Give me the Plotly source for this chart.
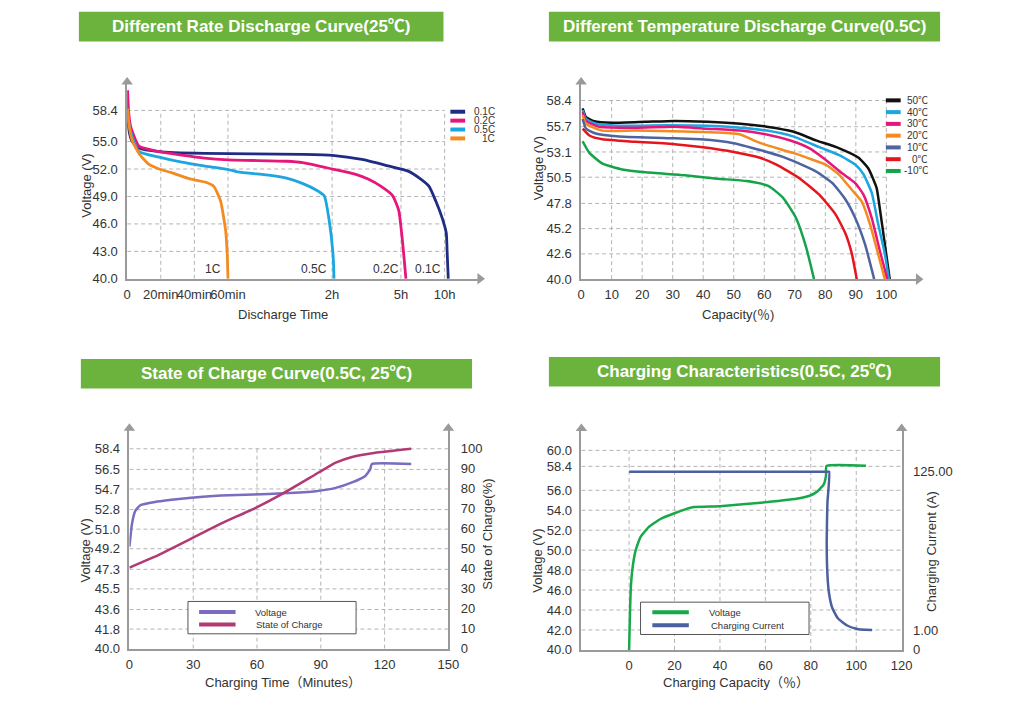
import numpy as np
import plotly.graph_objects as go

FONT = "Liberation Sans, Arial, Noto Sans CJK SC, sans-serif"
TXT = "#333333"
AXIS = "#9a9a9a"
GRID = "#b4b4b4"
GREEN_BAR = "#6cb33e"

# ---------------- chart 1: different rate discharge curve (25C)
RATE_NAMES = ["0.1C", "0.2C", "0.5C", "1C"]
RATE_COLORS = ["#1f2c84", "#e5177b", "#1ba6e1", "#f38b20"]

rate_01c_min = [0.3, 1, 3, 7, 19, 46, 103, 121, 198, 266, 345, 436, 493, 539, 584, 611, 618, 625]
rate_01c_v = [58.6, 56.3, 55.0, 54.3, 53.9, 53.7, 53.6, 53.5, 53.05, 52.35, 51.8, 50.9, 50.1, 48.5, 46.6, 45.0, 42.6, 40.0]

rate_02c_min = [0.3, 0.8, 2, 7, 19, 46, 60, 94, 103, 121, 180, 214, 248, 278, 294, 311, 334]
rate_02c_v = [60.6, 58.4, 56.7, 54.5, 53.9, 53.2, 53.0, 52.85, 52.7, 52.0, 51.45, 50.9, 50.1, 49.1, 47.5, 44.0, 40.0]

rate_05c_min = [0.3, 1, 3, 7, 19, 32.5, 45.6, 59.6, 65.5, 84.4, 93.8, 103.2, 110.8, 115.5, 118.3, 122.6, 125]
rate_05c_v = [58.6, 57.0, 55.5, 53.9, 53.3, 52.75, 52.35, 51.97, 51.7, 51.3, 51.0, 50.4, 49.7, 49.05, 46.4, 42.6, 40.0]

rate_1c_min = [0.3, 1, 3, 7, 13, 19, 26.4, 35.8, 41.6, 47.6, 51.6, 55.6, 58.6, 59.6, 60]
rate_1c_v = [58.6, 57.0, 55.1, 53.7, 52.5, 52.0, 51.6, 51.0, 50.75, 50.5, 50.1, 48.5, 45.3, 42.6, 40.0]

# the time axis is not to scale: anchors (minutes -> axis position)
TIME_TICK_MIN = [0, 20, 40, 60, 120, 300, 600, 900]
TIME_TICK_POS = [0, 1, 2, 3, 6.1, 8.15, 9.45, 10.75]
TIME_TICK_TEXT = ["0", "20min", "40min", "60min", "2h", "5h", "10h"]
RATE_VOLT_TICKS = [40.0, 43.0, 46.0, 49.0, 52.0, 55.0, 58.4]

# ---------------- chart 2: different temperature discharge curve (0.5C)
TEMP_NAMES = ["50℃", "40℃", "30℃", "20℃", "10℃", "0℃", "-10℃"]
TEMP_COLORS = ["#111111", "#1ba6e1", "#e5177b", "#f38b20", "#4e64a0", "#e8141d", "#15a34a"]

t50_cap = [0.5, 1.6, 4.3, 10.2, 21, 30.6, 41.4, 52.2, 60.8, 69.4, 76.9, 84.4, 90.9, 94.1, 96.8, 97.8, 99.5, 101.1]
t50_v = [57.6, 56.7, 56.26, 56.1, 56.2, 56.3, 56.2, 56.0, 55.7, 55.2, 54.3, 53.5, 52.5, 51.4, 49.4, 47.4, 43.6, 40.0]
t40_cap = [0.5, 1.6, 4.8, 12.4, 28.5, 41.4, 52.2, 60.8, 69.4, 78, 84.4, 89.8, 92.5, 95.2, 97.3, 99.5, 100.8]
t40_v = [57.4, 56.5, 56.0, 55.8, 55.85, 55.8, 55.6, 55.3, 54.7, 53.6, 52.8, 51.8, 50.8, 48.9, 45.7, 42.6, 40.0]
t30_cap = [0.5, 1.6, 5.9, 17.7, 30.6, 41.4, 52.2, 60.8, 68.3, 74.7, 80.1, 85.5, 89.8, 92.5, 95.2, 97.8, 100.3]
t30_v = [57.2, 56.3, 55.7, 55.6, 55.7, 55.5, 55.3, 54.9, 54.3, 53.5, 52.3, 50.9, 49.9, 48.7, 46.3, 43.0, 40.0]
t20_cap = [0.5, 1.6, 7, 17.7, 33.9, 44.6, 52.2, 56.5, 60.8, 69.4, 75.8, 80.1, 84.4, 88.7, 91.9, 94.6, 97.3, 99.5]
t20_v = [56.9, 56.0, 55.3, 55.3, 55.2, 55.1, 54.9, 54.3, 53.8, 53.0, 52.3, 51.8, 50.8, 49.2, 48.0, 45.7, 42.6, 40.0]
t10_cap = [0.5, 1.6, 4.8, 12.4, 30.6, 39.2, 50, 58.6, 66.1, 71.5, 76.9, 82.3, 86.6, 89.8, 93, 96]
t10_v = [56.5, 55.5, 55.0, 54.7, 54.5, 54.4, 54.0, 53.3, 52.6, 51.9, 51.1, 49.9, 48.2, 46.3, 43.6, 40.0]
t0_cap = [0.5, 2.7, 7, 17.7, 30.6, 39.2, 50, 58.6, 64, 71.5, 78, 83.3, 86.6, 88.7, 90.3]
t0_v = [55.5, 54.8, 54.4, 54.15, 53.9, 53.6, 53.1, 52.5, 51.8, 50.4, 48.7, 46.7, 44.7, 42.6, 40.0]
tm10_cap = [0.5, 2.7, 7, 13.4, 21, 33.9, 44.6, 54.3, 61.3, 66.1, 70.4, 73.7, 76.3]
tm10_v = [54.2, 53.0, 51.9, 51.3, 51.0, 50.7, 50.35, 50.1, 49.6, 48.4, 46.3, 43.3, 40.0]

TEMP_VOLT_TICKS = [40.0, 42.6, 45.2, 47.8, 50.5, 53.1, 55.7, 58.4]
CAP_TICKS = [0, 10, 20, 30, 40, 50, 60, 70, 80, 90, 100]

# ---------------- chart 3: state of charge curve (0.5C, 25C)
soc_v_min = [0, 1.2, 2.8, 5.1, 12, 19.8, 29, 43, 58.4, 72.3, 87.7, 97, 104.7, 110.9, 113.2, 114, 132.5]
soc_voltage = [49.4, 51.5, 52.7, 53.2, 53.5, 53.7, 53.9, 54.1, 54.2, 54.3, 54.5, 54.8, 55.3, 55.9, 56.5, 57.0, 57.0]
soc_s_min = [0, 12, 29, 43, 58.9, 72.3, 89, 97, 104.7, 115.6, 132.5]
soc_percent = [40.5, 46, 55, 62.5, 70.2, 77.7, 88.1, 93, 95.9, 98, 100]

SOC_VOLT_TICKS = [40.0, 41.8, 43.6, 45.5, 47.3, 49.2, 51.0, 52.8, 54.7, 56.5, 58.4]
SOC_TICKS = [0, 10, 20, 30, 40, 50, 60, 70, 80, 90, 100]
MIN_TICKS = [0, 30, 60, 90, 120, 150]

# ---------------- chart 4: charging characteristics (0.5C, 25C)
chg_v_cap = [0, 0.3, 0.7, 1.4, 2.9, 5, 8.6, 13.6, 20, 27.9, 40, 60, 75, 80, 83, 85.7, 86.7, 86.9, 104.3]
chg_voltage = [40.0, 43.0, 46.0, 48.0, 50.0, 51.3, 52.3, 53.1, 53.7, 54.3, 54.4, 54.8, 55.2, 55.5, 55.9, 56.6, 57.5, 58.45, 58.45]
chg_i_cap = [0, 87.1, 88.1, 87.3, 87.0, 87.3, 88, 89.5, 92, 96, 100, 104, 107]
chg_current = [125, 125, 125, 100, 70, 45, 30, 18, 10, 4.5, 2, 1.1, 1.0]

CHG_VOLT_TICKS = [40.0, 42.0, 44.0, 46.0, 48.0, 50.0, 52.0, 54.0, 56.0, 58.4, 60.0]
CHG_CAP_TICKS = [0, 20, 40, 60, 80, 100, 120]
# the current axis is not to scale either
CURRENT_TICKS = [0, 1, 125]
CURRENT_TICK_TEXT = ["0", "1.00", "125.00"]
CURRENT_TICK_POS = [0, 2, 17.86]


def px(x):
    return x / 1024


def py(y):
    return 1 - y / 712


def time_pos(minutes):
    return np.interp(minutes, TIME_TICK_MIN, TIME_TICK_POS)


def axis(**kw):
    d = dict(showline=True, linecolor=AXIS, linewidth=1.5, showgrid=False,
             zeroline=False, ticks="", fixedrange=True, tickangle=0,
             tickfont=dict(family=FONT, size=13, color=TXT))
    d.update(kw)
    return d


fig = go.Figure()
shapes = []
annotations = []


def hgrid(xr, yr, x0, x1, ys):
    for y in ys:
        shapes.append(dict(type="line", xref=xr, yref=yr, x0=x0, x1=x1, y0=y, y1=y,
                           line=dict(color=GRID, width=1, dash="4px,3px"), layer="below"))


def vgrid(xr, yr, xs, y0, y1):
    for x in xs:
        shapes.append(dict(type="line", xref=xr, yref=yr, x0=x, x1=x, y0=y0, y1=y1,
                           line=dict(color=GRID, width=1, dash="4px,3px"), layer="below"))


def arrow(xa, ya, x, y, symbol):
    fig.add_trace(go.Scatter(x=[x], y=[y], xaxis=xa, yaxis=ya, mode="markers",
                             marker=dict(symbol=symbol, size=10, color=AXIS),
                             cliponaxis=False, hoverinfo="skip", showlegend=False))


def text(x, y, s, size=13, xanchor="center", **kw):
    annotations.append(dict(x=px(x), y=py(y), xref="paper", yref="paper", text=s,
                            xanchor=xanchor, yanchor="middle", showarrow=False,
                            font=dict(family=FONT, size=size, color=TXT), **kw))


def title_box(x0, x1, y0, y1, s):
    shapes.append(dict(type="rect", xref="paper", yref="paper", x0=px(x0), x1=px(x1),
                       y0=py(y1), y1=py(y0), fillcolor=GREEN_BAR, line=dict(width=0)))
    annotations.append(dict(x=px((x0 + x1) / 2), y=py((y0 + y1) / 2), xref="paper", yref="paper",
                            text="<b>" + s + "</b>", showarrow=False,
                            xanchor="center", yanchor="middle",
                            font=dict(family=FONT, size=17, color="white")))


def legend_line(x0, x1, y, color, width=4):
    shapes.append(dict(type="line", xref="paper", yref="paper", x0=px(x0), x1=px(x1),
                       y0=py(y), y1=py(y), line=dict(color=color, width=width)))


# ---- chart 1
rate_series = [(rate_01c_min, rate_01c_v), (rate_02c_min, rate_02c_v),
               (rate_05c_min, rate_05c_v), (rate_1c_min, rate_1c_v)]
hgrid("x", "y", 0, TIME_TICK_POS[6], RATE_VOLT_TICKS[1:])
vgrid("x", "y", TIME_TICK_POS[1:7], 40, 58.4)
for name, color, (t, v) in zip(RATE_NAMES, RATE_COLORS, rate_series):
    fig.add_trace(go.Scatter(x=time_pos(t), y=v, xaxis="x", yaxis="y", mode="lines", name=name,
                             line=dict(color=color, width=2.8, shape="spline", smoothing=0.5),
                             showlegend=False))
    annotations.append(dict(x=time_pos(t[-1]), y=40, xref="x", yref="y", text=name,
                            xanchor="right", yanchor="bottom", xshift=-5, yshift=1,
                            showarrow=False, font=dict(family=FONT, size=12, color=TXT)))
arrow("x", "y", 0, 61.5, "triangle-up")
arrow("x", "y", 10.5, 40, "triangle-right")
for i, (name, color) in enumerate(zip(RATE_NAMES, RATE_COLORS)):
    yy = 113 + i * 9
    legend_line(453, 468, yy, color)
    text(500, yy, name, size=10, xanchor="right")

# ---- chart 2
temp_series = [(t50_cap, t50_v), (t40_cap, t40_v), (t30_cap, t30_v), (t20_cap, t20_v),
               (t10_cap, t10_v), (t0_cap, t0_v), (tm10_cap, tm10_v)]
hgrid("x2", "y2", 0, 100, TEMP_VOLT_TICKS[1:])
vgrid("x2", "y2", CAP_TICKS[1:], 40, 58.4)
for name, color, (c, v) in zip(TEMP_NAMES, TEMP_COLORS, temp_series):
    fig.add_trace(go.Scatter(x=c, y=v, xaxis="x2", yaxis="y2", mode="lines", name=name,
                             line=dict(color=color, width=2.5, shape="spline", smoothing=0.5),
                             showlegend=False))
arrow("x2", "y2", 0, 60.3, "triangle-up")
arrow("x2", "y2", 110.5, 40, "triangle-right")
for i, (name, color) in enumerate(zip(TEMP_NAMES, TEMP_COLORS)):
    yy = 101.5 + i * 11.9
    legend_line(895, 910, yy, color)
    text(940, yy, name, size=10, xanchor="right")

# ---- chart 3
hgrid("x3", "y3", 0, 150, SOC_VOLT_TICKS[1:])
vgrid("x3", "y3", MIN_TICKS[1:5], 40, 58.4)
fig.add_trace(go.Scatter(x=soc_v_min, y=soc_voltage, xaxis="x3", yaxis="y3", mode="lines",
                         name="Voltage", line=dict(color="#7a6cc0", width=2.5, shape="spline", smoothing=0.4),
                         showlegend=False))
fig.add_trace(go.Scatter(x=soc_s_min, y=soc_percent, xaxis="x3", yaxis="y4", mode="lines",
                         name="State of Charge", line=dict(color="#b23a74", width=2.5, shape="spline", smoothing=0.4),
                         showlegend=False))
arrow("x3", "y3", 0, 60.3, "triangle-up")
arrow("x3", "y3", 150, 60.3, "triangle-up")
shapes.append(dict(type="rect", xref="paper", yref="paper", x0=px(186.7), x1=px(357.3),
                   y0=py(641), y1=py(608.3), line=dict(color="#555555", width=1), fillcolor="white"))
legend_line(198, 235, 619, "#7a6cc0")
legend_line(198, 235, 631.7, "#b23a74")
text(253, 619, "Voltage", size=9.5, xanchor="left")
text(254, 631.7, "State of Charge", size=9.5, xanchor="left")

# ---- chart 4
hgrid("x4", "y5", -21, 120, CHG_VOLT_TICKS[1:])
vgrid("x4", "y5", CHG_CAP_TICKS[:6], 40, 60)
fig.add_trace(go.Scatter(x=chg_v_cap, y=chg_voltage, xaxis="x4", yaxis="y5", mode="lines",
                         name="Voltage", line=dict(color="#17a84a", width=2.5, shape="spline", smoothing=0.4),
                         showlegend=False))
fig.add_trace(go.Scatter(x=chg_i_cap, y=np.interp(chg_current, CURRENT_TICKS, CURRENT_TICK_POS),
                         xaxis="x4", yaxis="y6", mode="lines", name="Charging Current",
                         line=dict(color="#4c5f9e", width=2.5, shape="spline", smoothing=0.4),
                         showlegend=False))
arrow("x4", "y5", -21, 62.2, "triangle-up")
arrow("x4", "y5", 120, 62.2, "triangle-up")
shapes.append(dict(type="rect", xref="paper", yref="paper", x0=px(646), x1=px(817),
                   y0=py(641.7), y1=py(609), line=dict(color="#555555", width=1), fillcolor="white"))
legend_line(658, 695, 619.3, "#17a84a")
legend_line(658, 695, 632.3, "#4c5f9e")
text(713, 619.3, "Voltage", size=9.5, xanchor="left")
text(715, 632.3, "Charging Current", size=9.5, xanchor="left")

# ---- titles and axis titles
title_box(76, 446, 12, 42, "Different Rate Discharge Curve(25℃)")
title_box(553, 950, 12, 42, "Different Temperature Discharge Curve(0.5C)")
title_box(78, 475, 363, 393, "State of Charge Curve(0.5C, 25℃)")
title_box(553, 950, 361, 391, "Charging Characteristics(0.5C, 25℃)")

text(84, 188, "Voltage (V)", textangle=-90)
text(283, 318, "Discharge Time")
text(542, 170, "Voltage (V)", textangle=-90)
text(745, 318, "Capacity(％)")
text(83, 557, "Voltage (V)", textangle=-90)
text(491, 540, "State of Charge(%)", textangle=-90)
text(283, 690, "Charging Time（Minutes）")
text(542, 567, "Voltage (V)", textangle=-90)
text(942, 558, "Charging Current (A)", textangle=-90)
text(743, 690, "Charging Capacity（％）")

fig.update_layout(
    autosize=True,
    margin=dict(l=0, r=0, t=0, b=0),
    paper_bgcolor="white", plot_bgcolor="rgba(0,0,0,0)",
    showlegend=False,
    shapes=shapes, annotations=annotations,
    xaxis=axis(domain=[px(125), px(483)], range=[0, 10.5], anchor="y",
               tickvals=TIME_TICK_POS[:7], ticktext=TIME_TICK_TEXT, ticklabelstandoff=3),
    yaxis=axis(domain=[py(282), py(83)], range=[40, 61.5], anchor="x",
               tickvals=RATE_VOLT_TICKS, ticktext=[f"{v:.1f}" for v in RATE_VOLT_TICKS],
               ticklabelstandoff=5),
    xaxis2=axis(domain=[px(585.7), px(928)], range=[0, 110.5], anchor="y2",
                tickvals=CAP_TICKS, ticklabelstandoff=3),
    yaxis2=axis(domain=[py(282.3), py(83)], range=[40, 60.3], anchor="x2",
                tickvals=TEMP_VOLT_TICKS, ticktext=[f"{v:.1f}" for v in TEMP_VOLT_TICKS],
                ticklabelstandoff=5),
    xaxis3=axis(domain=[px(127.3), px(451)], range=[0, 150], anchor="y3",
                tickvals=MIN_TICKS, ticklabelstandoff=3),
    yaxis3=axis(domain=[py(656), py(433)], range=[40, 60.3], anchor="x3",
                tickvals=SOC_VOLT_TICKS, ticktext=[f"{v:.1f}" for v in SOC_VOLT_TICKS],
                ticklabelstandoff=5),
    yaxis4=axis(range=[0, 110.3], anchor="x3", overlaying="y3", side="right",
                tickvals=SOC_TICKS, ticklabelstandoff=8),
    xaxis4=axis(domain=[px(586), px(911)], range=[-21, 120], anchor="y5",
                tickvals=CHG_CAP_TICKS, ticklabelstandoff=3),
    yaxis5=axis(domain=[py(657.3), py(433.3)], range=[40, 62.2], anchor="x4",
                tickvals=CHG_VOLT_TICKS, ticktext=[f"{v:.1f}" for v in CHG_VOLT_TICKS],
                ticklabelstandoff=5),
    yaxis6=axis(range=[0, 22.2], anchor="x4", overlaying="y5", side="right",
                tickvals=CURRENT_TICK_POS, ticktext=CURRENT_TICK_TEXT, ticklabelstandoff=7),
)

# fill the browser window exactly, no page margin
fig.write_html("out.html", default_width="100vw", default_height="100vh",
               config={"displayModeBar": False},
               post_script="document.body.style.margin='0';")
